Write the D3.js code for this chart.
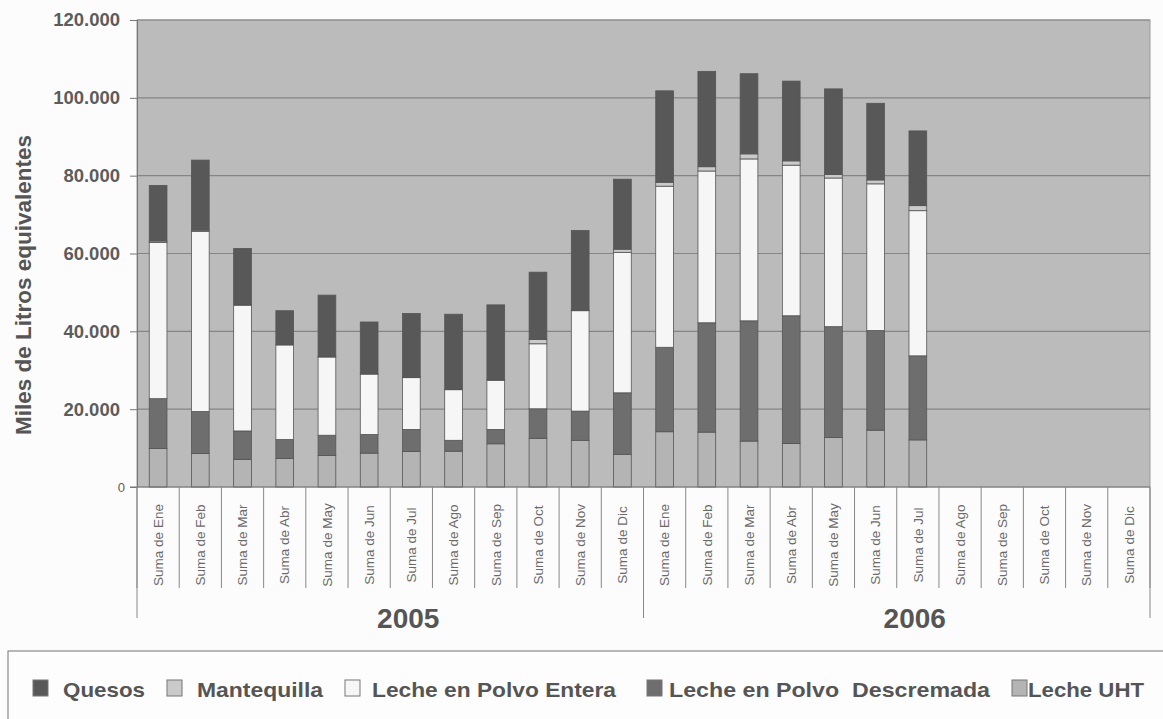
<!DOCTYPE html>
<html lang="es">
<head>
<meta charset="UTF-8">
<title>Miles de Litros equivalentes</title>
<style>
    body { margin: 0; background: #fcfcfc; }
    svg { display: block; font-family: "Liberation Sans", Arial, sans-serif; }
</style>
</head>
<body>
<div id="chart"></div>
<script src="https://cdnjs.cloudflare.com/ajax/libs/d3/7.8.5/d3.min.js"></script>
<script>
    // months and years of the x axis
    var months = ["Ene", "Feb", "Mar", "Abr", "May", "Jun", "Jul", "Ago", "Sep", "Oct", "Nov", "Dic"];
    var years = ["2005", "2006"];

    // series (miles de litros), Ene 2005 .. Jul 2006, the rest has no data
    var lecheUHT    = [9900, 8600, 7100, 7300, 8100, 8700, 9100, 9200, 11100, 12500, 12000, 8400,
                       14200, 14100, 11800, 11200, 12700, 14600, 12100];
    var descremada  = [12800, 10800, 7300, 4900, 5200, 4800, 5700, 2800, 3700, 7600, 7500, 15800,
                       21700, 28100, 30900, 32800, 28500, 25600, 21600];
    var entera      = [40100, 46300, 32300, 24300, 20100, 15500, 13300, 13000, 12600, 16700, 25800, 36100,
                       41400, 39000, 41600, 38700, 38200, 37700, 37300];
    var mantequilla = [400, 300, 200, 200, 200, 200, 200, 200, 200, 1100, 200, 800,
                       1000, 1100, 1300, 1100, 900, 1000, 1300];
    var quesos      = [14300, 18000, 14400, 8600, 15700, 13200, 16300, 19200, 19200, 17300, 20400, 18000,
                       23500, 24500, 20600, 20500, 22000, 19700, 19200];

    var yTicks = [0, 20000, 40000, 60000, 80000, 100000, 120000];

    // stacking order, bottom first
    var series = [
        { key: "uht", name: "Leche UHT", values: lecheUHT, color: "#b4b4b4" },
        { key: "descremada", name: "Leche en Polvo  Descremada", values: descremada, color: "#6e6e6e" },
        { key: "entera", name: "Leche en Polvo Entera", values: entera, color: "#f6f6f6" },
        { key: "mantequilla", name: "Mantequilla", values: mantequilla, color: "#cacaca" },
        { key: "quesos", name: "Quesos", values: quesos, color: "#585858" }
    ];

    // legend order and layout as in the picture
    var legendOrder = ["quesos", "mantequilla", "entera", "descremada", "uht"];
    var legendSwatchX = [33, 167, 345, 647, 1012];
    var legendTextX = [63, 197, 372, 669, 1028];
    var legendTextW = [82, 126, 244, 321, 116];

    var width = 1163, height = 719;
    var plot = { left: 137, right: 1150, top: 20, bottom: 487 };

    // categories: one per year-month
    var cats = [];
    years.forEach(function (yr) {
        months.forEach(function (m) { cats.push({ id: yr + "-" + m, year: yr, month: m }); });
    });

    var table = cats.map(function (c, i) {
        var row = { id: c.id };
        series.forEach(function (s) { row[s.key] = s.values[i] || 0; });
        return row;
    });

    var stack = d3.stack().keys(series.map(function (s) { return s.key; }));
    var stacked = stack(table);

    var cell = d3.scaleBand().domain(cats.map(function (c) { return c.id; })).range([plot.left, plot.right]);
    var x = cell.copy().paddingInner(0.58).paddingOuter(0.29);
    var y = d3.scaleLinear().domain([0, 120000]).range([plot.bottom, plot.top]);

    var locale = d3.formatLocale({ decimal: ",", thousands: ".", grouping: [3], currency: ["", ""] });
    var fmt = locale.format(",");

    var svg = d3.select("#chart").append("svg")
        .attr("width", width)
        .attr("height", height);

    // plot background
    svg.append("rect")
        .attr("x", plot.left).attr("y", plot.top)
        .attr("width", plot.right - plot.left)
        .attr("height", plot.bottom - plot.top)
        .attr("fill", "#bbbbbb")
        .attr("stroke", "#9a9a9a");

    // gridlines
    svg.append("g").selectAll("line")
        .data(yTicks.filter(function (t) { return t > 0; }))
        .join("line")
        .attr("x1", plot.left).attr("x2", plot.right)
        .attr("y1", function (d) { return y(d); })
        .attr("y2", function (d) { return y(d); })
        .attr("stroke", "#858585")
        .attr("stroke-width", 1.2);

    // y axis
    var yAxis = svg.append("g")
        .attr("transform", "translate(" + plot.left + ",0)")
        .call(d3.axisLeft(y).tickValues(yTicks).tickSize(7).tickPadding(10).tickFormat(fmt));
    yAxis.select(".domain").attr("stroke", "#777");
    yAxis.selectAll(".tick line").attr("stroke", "#777");
    yAxis.selectAll(".tick text")
        .attr("fill", "#5c5c5c")
        .attr("font-size", function (d) { return d === 0 ? 13 : 18.5; })
        .attr("font-weight", function (d) { return d === 0 ? "normal" : "bold"; })
        .attr("x", function (d) { return d === 0 ? -12 : -17; });

    // y title
    svg.append("text")
        .attr("transform", "translate(31," + 285 + ") rotate(-90)")
        .attr("text-anchor", "middle")
        .attr("font-size", 22.5)
        .attr("font-weight", "bold")
        .attr("fill", "#555")
        .text("Miles de Litros equivalentes");

    // bars
    var layers = svg.append("g").selectAll("g")
        .data(stacked)
        .join("g")
        .attr("fill", function (d, i) { return series[i].color; });

    layers.selectAll("rect")
        .data(function (d) { return d.filter(function (p) { return p[1] - p[0] > 0; }); })
        .join("rect")
        .attr("x", function (d) { return x(d.data.id); })
        .attr("width", x.bandwidth())
        .attr("y", function (d) { return y(d[1]); })
        .attr("height", function (d) { return y(d[0]) - y(d[1]); })
        .attr("stroke", "#555")
        .attr("stroke-width", 0.8);

    // x axis line
    svg.append("line")
        .attr("x1", plot.left - 7).attr("x2", plot.right)
        .attr("y1", plot.bottom).attr("y2", plot.bottom)
        .attr("stroke", "#777");

    // month separators
    var bounds = cats.map(function (c) { return cell(c.id); }).concat([plot.right]);
    svg.append("g").selectAll("line")
        .data(bounds)
        .join("line")
        .attr("x1", function (d) { return d; }).attr("x2", function (d) { return d; })
        .attr("y1", plot.bottom).attr("y2", 588)
        .attr("stroke", "#888");

    // month labels
    svg.append("g").selectAll("text")
        .data(cats)
        .join("text")
        .attr("transform", function (c) {
            return "translate(" + (cell(c.id) + cell.bandwidth() / 2) + ",545) rotate(-90)";
        })
        .attr("text-anchor", "middle")
        .attr("dy", "0.35em")
        .attr("font-size", 13.5)
        .attr("fill", "#6a6a6a")
        .text(function (c) { return "Suma de " + c.month; });

    // year separators and labels
    var yearBounds = years.map(function (yr) { return cell(yr + "-" + months[0]); }).concat([plot.right]);
    svg.append("g").selectAll("line")
        .data(yearBounds)
        .join("line")
        .attr("x1", function (d) { return d; }).attr("x2", function (d) { return d; })
        .attr("y1", plot.bottom).attr("y2", 618)
        .attr("stroke", "#888");

    svg.append("g").selectAll("text")
        .data(years)
        .join("text")
        .attr("x", function (yr, i) { return (yearBounds[i] + yearBounds[i + 1]) / 2 + 18; })
        .attr("y", 628)
        .attr("text-anchor", "middle")
        .attr("font-size", 28)
        .attr("font-weight", "bold")
        .attr("fill", "#555")
        .text(function (yr) { return yr; });

    // legend box
    svg.append("rect")
        .attr("x", 8).attr("y", 651)
        .attr("width", 1180).attr("height", 100)
        .attr("fill", "#fdfdfd")
        .attr("stroke", "#8a8a8a")
        .attr("stroke-width", 1.2);

    var legend = svg.append("g").selectAll("g")
        .data(legendOrder.map(function (k) { return series.find(function (s) { return s.key === k; }); }))
        .join("g");

    legend.append("rect")
        .attr("x", function (d, i) { return legendSwatchX[i]; })
        .attr("y", 680)
        .attr("width", 15).attr("height", 16)
        .attr("fill", function (d) { return d.color; })
        .attr("stroke", "#777");

    legend.append("text")
        .attr("x", function (d, i) { return legendTextX[i]; })
        .attr("y", 697)
        .attr("font-size", 21)
        .attr("font-weight", "bold")
        .attr("fill", "#555")
        .attr("textLength", function (d, i) { return legendTextW[i]; })
        .attr("lengthAdjust", "spacingAndGlyphs")
        .style("white-space", "pre")
        .text(function (d) { return d.name; });
</script>
</body>
</html>
